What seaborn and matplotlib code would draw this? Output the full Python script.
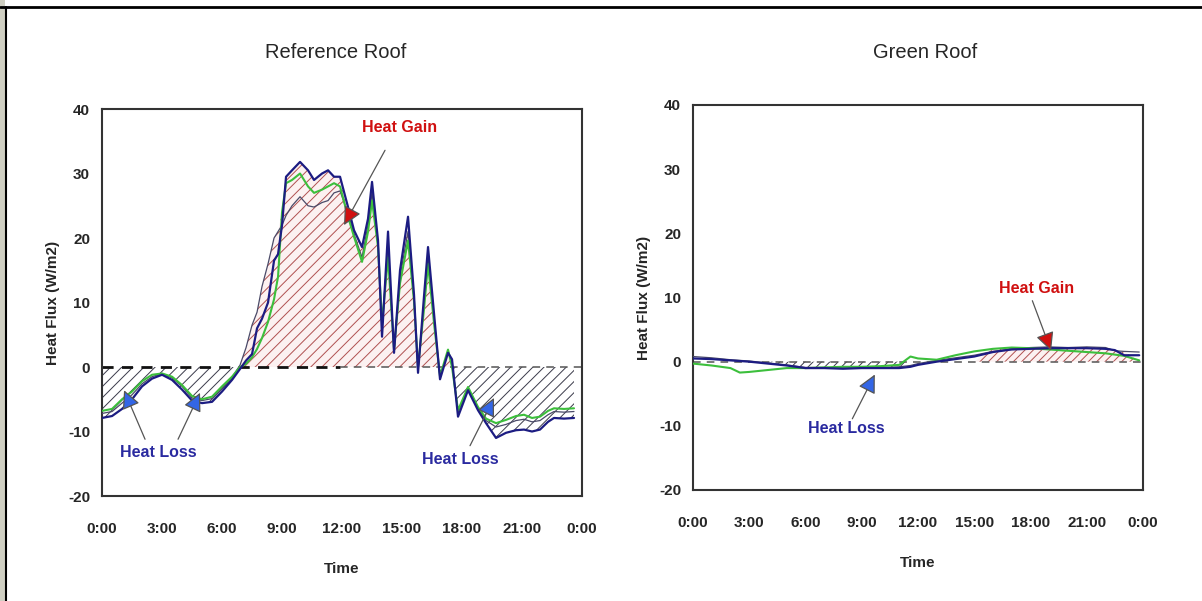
import numpy as np
import pandas as pd
import seaborn as sns
import matplotlib.pyplot as plt
from matplotlib.lines import Line2D
from matplotlib.patches import Rectangle

# ---- reference roof (hours, heat flux W/m2) ----
ref_hours = [0.0, 0.5, 1.0, 1.5, 2.0, 2.5, 3.0, 3.5, 4.0, 4.5, 5.0, 5.5, 6.0, 6.5, 6.9,
             7.2, 7.5, 7.75, 8.0, 8.3, 8.6, 8.8, 9.0, 9.2, 9.5, 9.9, 10.3, 10.6, 11.0,
             11.3, 11.6, 11.9, 12.3, 12.6, 13.0, 13.3, 13.5, 13.8, 14.0, 14.3, 14.6,
             14.9, 15.3, 15.6, 15.8, 16.1, 16.3, 16.6, 16.9, 17.3, 17.5, 17.8, 18.3,
             18.8, 19.2, 19.7, 20.2, 20.7, 21.1, 21.5, 21.9, 22.3, 22.6, 23.1, 23.6]
ref_navy = [-7.9, -7.6, -6.5, -5.0, -3.0, -1.8, -1.2, -2.0, -3.5, -5.2, -5.6, -5.4, -3.8,
            -2.0, -0.3, 1.0, 2.0, 6.0, 7.5, 10.0, 16.5, 17.5, 22.0, 29.5, 30.5, 31.8,
            30.5, 29.0, 30.0, 30.5, 29.5, 29.5, 24.8, 21.2, 18.6, 23.0, 28.7, 19.6, 4.7,
            21.0, 2.2, 15.0, 23.3, 11.2, -0.9, 11.0, 18.6, 8.3, -1.9, 2.2, 1.2, -7.7,
            -3.6, -6.7, -8.7, -11.0, -10.2, -9.8, -9.7, -10.0, -9.7, -8.5, -7.9, -8.0, -7.9]
ref_green = [-6.8, -6.5, -5.0, -3.8, -2.2, -1.2, -1.0, -1.5, -2.8, -4.5, -5.0, -4.6, -3.0,
             -1.5, 0.0, 0.5, 1.5, 2.8, 4.5, 7.0, 10.5, 14.0, 24.0, 28.5, 29.0, 30.0,
             28.0, 27.0, 27.5, 28.0, 28.5, 28.0, 23.3, 20.2, 16.3, 21.0, 25.8, 18.6, 6.8,
             17.0, 2.7, 13.0, 19.6, 10.2, 0.0, 9.0, 16.0, 6.8, -1.4, 2.7, 0.0, -6.7,
             -3.1, -6.2, -8.0, -8.7, -8.2, -7.6, -7.4, -7.9, -7.7, -6.8, -6.4, -6.5, -6.4]
ref_gray = [-7.2, -6.9, -5.6, -4.3, -2.6, -1.5, -1.0, -1.7, -3.0, -4.8, -5.2, -4.9, -3.3,
            -1.6, 0.3, 3.0, 6.5, 8.5, 12.5, 16.0, 20.0, 21.0, 22.0, 23.5, 25.0, 26.4,
            25.0, 24.8, 25.5, 25.8, 27.0, 27.3, 23.8, 20.6, 17.0, 22.0, 27.0, 19.0, 6.0,
            19.0, 2.5, 14.0, 21.0, 10.5, -0.4, 10.0, 17.0, 7.5, -1.6, 2.5, 0.8, -7.0,
            -3.3, -6.4, -8.3, -9.3, -8.9, -8.3, -8.1, -8.5, -8.3, -7.4, -6.9, -7.0, -6.9]

# ---- green roof ----
green_hours = [0, 1, 2, 2.5, 3, 4, 5, 6, 7, 8, 9, 10, 11, 11.6, 12, 13, 14, 15, 16, 17,
               18, 19, 20, 21, 22, 22.5, 23, 23.8]
green_navy = [0.5, 0.4, 0.2, 0.1, 0.0, -0.3, -0.6, -1.0, -1.0, -1.1, -1.0, -1.0, -1.0,
              -0.8, -0.5, 0.0, 0.4, 0.8, 1.5, 1.9, 2.0, 2.1, 2.1, 2.1, 2.0, 1.8, 1.0, 1.0]
green_green = [-0.3, -0.6, -1.0, -1.7, -1.6, -1.3, -1.0, -1.0, -0.9, -0.8, -0.8, -0.7, -0.5,
               0.8, 0.5, 0.3, 1.0, 1.6, 2.0, 2.2, 2.1, 1.9, 1.7, 1.5, 1.3, 1.1, 0.9, 0.2]
green_gray = [0.8, 0.6, 0.3, 0.2, 0.1, -0.2, -0.5, -0.9, -0.9, -1.0, -1.0, -0.9, -0.8,
              -0.6, -0.3, 0.2, 0.6, 1.0, 1.6, 2.0, 2.2, 2.3, 2.2, 2.3, 2.2, 1.7, 1.6, 1.5]

tick_hours = [0, 3, 6, 9, 12, 15, 18, 21, 24]
tick_labels = ["0:00", "3:00", "6:00", "9:00", "12:00", "15:00", "18:00", "21:00", "0:00"]
y_ticks = [-20, -10, 0, 10, 20, 30, 40]

NAVY = "#1c1c82"
GREEN = "#3cbf3c"
GRAY = "#4a4a68"
RED = "#d01010"
BLUE_TXT = "#2a2aa0"
BLUE_HEAD = "#3366e6"

sns.set_style("white")
plt.rcParams["font.family"] = ["Liberation Sans", "DejaVu Sans"]
plt.rcParams["axes.unicode_minus"] = False
plt.rcParams["hatch.linewidth"] = 0.7

fig = plt.figure(figsize=(12.02, 6.01), dpi=100)
ax1 = fig.add_axes([0.0849, 0.1747, 0.3993, 0.6439])
ax2 = fig.add_axes([0.5765, 0.1847, 0.3744, 0.6406])


def draw_panel(ax, hours, navy, green, gray, gain_mask, loss_mask, split, hatch):
    h = np.array(hours)
    top = np.maximum.reduce([np.array(navy), np.array(green), np.array(gray)])
    bot = np.array(navy)
    ax.fill_between(h, 0, top, where=(top > 0) & gain_mask(h), interpolate=True,
                    facecolor="#fcf1f1", edgecolor="#b05050", hatch=hatch, linewidth=0)
    ax.fill_between(h, 0, bot, where=(bot < 0) & loss_mask(h), interpolate=True,
                    facecolor="none", edgecolor="#3a3a4a", hatch=hatch, linewidth=0)
    # zero line: heavy black dashes, then lighter ones
    ax.plot([0, split], [0, 0], color="#111111", lw=2.0, ls=(0, (4, 3)), zorder=2)
    ax.plot([split, 24], [0, 0], color="#555555", lw=1.1, ls=(0, (5, 4)), zorder=2)
    sns.lineplot(x=hours, y=gray, ax=ax, color=GRAY, lw=0.9, zorder=3)
    sns.lineplot(x=hours, y=green, ax=ax, color=GREEN, lw=1.5, zorder=4)
    sns.lineplot(x=hours, y=navy, ax=ax, color=NAVY, lw=1.6, zorder=5)
    ax.set_xlim(0, 24)
    ax.set_ylim(-20, 40)
    ax.set_xticks(tick_hours)
    ax.set_xticklabels(tick_labels)
    ax.set_yticks(y_ticks)
    ax.tick_params(direction="in", length=5, width=1, color="#444444", labelsize=11)
    ax.tick_params(axis="x", pad=18.5)
    ax.tick_params(axis="y", pad=8.6)
    for lab in ax.get_xticklabels() + ax.get_yticklabels():
        lab.set_fontweight("bold")
    for sp in ax.spines.values():
        sp.set_color("#333333")
        sp.set_linewidth(1.5)
    ax.set_xlabel("Time", fontsize=11, fontweight="bold", labelpad=19)
    ax.set_ylabel("Heat Flux (W/m2)", fontsize=11, fontweight="bold", labelpad=6)


def arrow(ax, start, end, head_color):
    ax.annotate("", xy=end, xytext=start,
                arrowprops=dict(arrowstyle="-|>,head_length=0.9,head_width=0.45",
                                mutation_scale=12.5, fc=head_color, ec="#555555", lw=0.9,
                                shrinkA=0, shrinkB=0), zorder=9)


def label(ax, x, y, text, color):
    ax.text(x, y, text, color=color, fontsize=11.5, ha="center", va="center",
            fontweight="bold", zorder=10)


draw_panel(ax1, ref_hours, ref_navy, ref_green, ref_gray,
           lambda h: np.ones_like(h, dtype=bool), lambda h: np.ones_like(h, dtype=bool),
           11.9, "///")
draw_panel(ax2, green_hours, green_navy, green_green, green_gray,
           lambda h: (h >= 15.5) & (h <= 23), lambda h: (h >= 5) & (h <= 11.5),
           0, "////")

# left annotations
arrow(ax1, (14.15, 33.6), (12.1, 22.0), RED)
label(ax1, 14.9, 37.2, "Heat Gain", RED)
arrow(ax1, (2.15, -11.2), (1.1, -3.6), BLUE_HEAD)
arrow(ax1, (3.8, -11.2), (4.9, -4.0), BLUE_HEAD)
label(ax1, 2.8, -13.2, "Heat Loss", BLUE_TXT)
arrow(ax1, (18.4, -12.2), (19.6, -4.8), BLUE_HEAD)
label(ax1, 17.9, -14.4, "Heat Loss", BLUE_TXT)

# right annotations
arrow(ax2, (18.1, 9.5), (19.1, 1.7), RED)
label(ax2, 18.35, 11.4, "Heat Gain", RED)
arrow(ax2, (8.5, -8.9), (9.7, -2.0), BLUE_HEAD)
label(ax2, 8.2, -10.4, "Heat Loss", BLUE_TXT)

fig.text(336 / 1202, 1 - 52 / 601, "Reference Roof", fontsize=14.5, ha="center", va="center")
fig.text(925 / 1202, 1 - 52 / 601, "Green Roof", fontsize=14.5, ha="center", va="center")

# outer frame of the slide
fig.add_artist(Rectangle((0, 0), 5 / 1202, 1, transform=fig.transFigure,
                         facecolor="#cfcfc2", edgecolor="none"))
fig.add_artist(Line2D([0.0, 1.0], [1 - 7 / 601, 1 - 7 / 601], transform=fig.transFigure,
                      color="black", lw=2))
fig.add_artist(Line2D([6 / 1202, 6 / 1202], [0, 1 - 7 / 601], transform=fig.transFigure,
                      color="black", lw=1.5))

fig.savefig("out.png", dpi=100)
